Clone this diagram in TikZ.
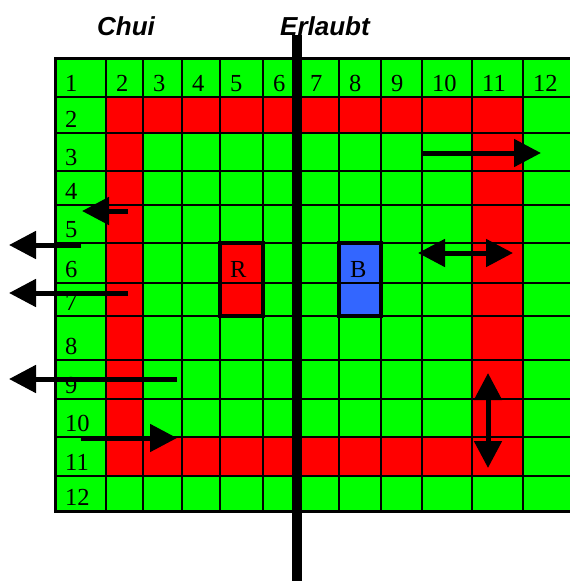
\documentclass[tikz,border=0pt]{standalone}
\usepackage{fontspec}
\setmainfont{Liberation Serif}
\newfontfamily\labfont{Liberation Sans}
\usetikzlibrary{arrows.meta}
\definecolor{cgreen}{HTML}{00FF00}
\definecolor{cred}{HTML}{FF0000}
\definecolor{cblue}{HTML}{3366FF}
\begin{document}
\begin{tikzpicture}[x=1pt,y=-1pt,
  arr/.style={line width=5pt, -{Triangle[length=27pt,width=27pt]}},
  darr/.style={line width=5pt, {Triangle[length=27pt,width=27pt]}-{Triangle[length=27pt,width=27pt]}},
  num/.style={anchor=base west, inner sep=0pt, font=\fontsize{24.5}{24.5}\selectfont},
  ttl/.style={anchor=base west, inner sep=0pt, font=\labfont\bfseries\itshape\fontsize{26}{26}\selectfont},
  gridline/.style={line width=2.5pt},
  boxline/.style={line width=3.5pt}]
\useasboundingbox (0,0) rectangle (570,581);
\begin{scope}
  \clip (0,0) rectangle (570,581);
  \fill[cgreen] (55,58) rectangle (600,511);
  \fill[cred] (106,97) rectangle (523,133);
  \fill[cred] (106,437) rectangle (523,476);
  \fill[cred] (106,97) rectangle (143,476);
  \fill[cred] (472,97) rectangle (523,476);
  \fill[cred] (220,243) rectangle (263,316);
  \fill[cblue] (339,243) rectangle (381,316);
  \foreach \x in {106,143,182,220,263,300,339,381,422,472,523}
    \draw[gridline] (\x,58) -- (\x,511);
  \foreach \y in {97,133,171,205,243,283,316,360,399,437,476}
    \draw[gridline] (55,\y) -- (600,\y);
  \draw[line width=3pt] (55,58) rectangle (600,511);
\end{scope}
\draw[boxline] (220,243) rectangle (263,316);
\draw[boxline] (339,243) rectangle (381,316);
% labels
\foreach \x/\t in {55/1,106/2,143/3,182/4,220/5,263/6,300/7,339/8,381/9,422/10,472/11,523/12}
  \node[num] (c\t) at (\x+10,91) {\t};
\foreach \y/\t in {133/2,171/3,205/4,243/5,283/6,316/7,360/8,399/9,437/10,476/11,511/12}
  \node[num] (r\t) at (65,\y-6) {\t};
\node[num] (R) at (230,277) {R};
\node[num] (B) at (350,277) {B};
% separator bar
\coordinate (bartop) at (297,35);
\coordinate (barbot) at (297,581);
\draw[line width=10pt] (bartop) -- (barbot);
\node[ttl] (chui) at (97,35) {Chui};
\node[ttl] (erl) at (280,35) {Erlaubt};
% arrows
\coordinate (a1s) at (422,153); \coordinate (a1e) at (541,153);
\coordinate (a2s) at (128,211); \coordinate (a2e) at (82,211);
\coordinate (a3s) at (81,245);  \coordinate (a3e) at (9,245);
\coordinate (a4s) at (128,293); \coordinate (a4e) at (9,293);
\coordinate (a5s) at (177,379); \coordinate (a5e) at (9,379);
\coordinate (a6s) at (81,438);  \coordinate (a6e) at (177,438);
\coordinate (a7s) at (418,253); \coordinate (a7e) at (513,253);
\coordinate (a8s) at (488,373); \coordinate (a8e) at (488,468);
\draw[arr] (a1s) -- (a1e);
\draw[arr] (a2s) -- (a2e);
\draw[arr] (a3s) -- (a3e);
\draw[arr] (a4s) -- (a4e);
\draw[arr] (a5s) -- (a5e);
\draw[arr] (a6s) -- (a6e);
\draw[darr] (a7s) -- (a7e);
\draw[darr] (a8s) -- (a8e);
\end{tikzpicture}
\end{document}
